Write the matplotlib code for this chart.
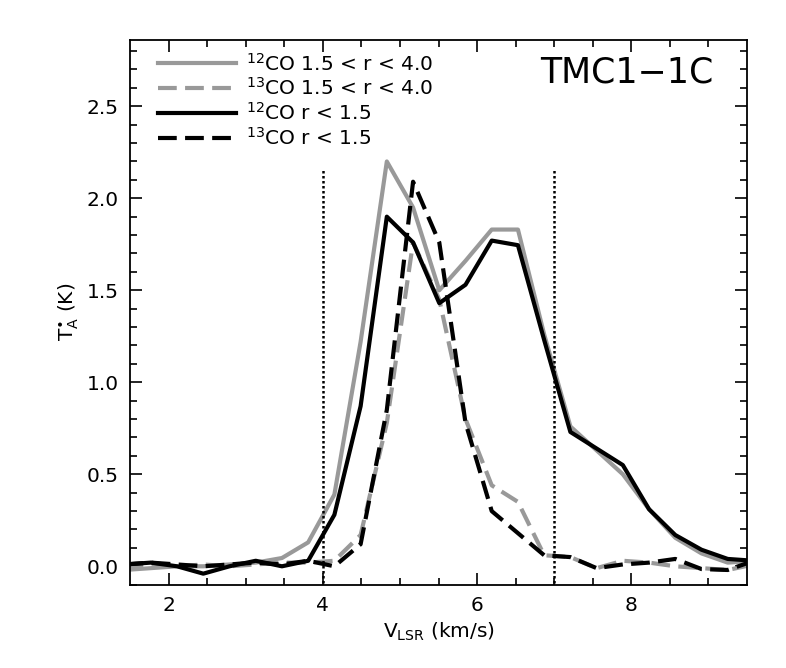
import matplotlib
matplotlib.use("Agg")
import matplotlib.pyplot as plt

plt.rcParams["font.family"] = ["DejaVu Sans"]
plt.rcParams["mathtext.default"] = "regular"

# channel velocities (km/s)
vel = [1.43, 1.77, 2.11, 2.45, 2.79, 3.13, 3.47, 3.81, 4.15, 4.49, 4.83, 5.17, 5.51,
       5.85, 6.19, 6.53, 6.87, 7.21, 7.55, 7.89, 8.23, 8.57, 8.91, 9.25, 9.59]

co12_outer = [-0.02, -0.01, 0.0, 0.0, 0.01, 0.02, 0.045, 0.13, 0.39, 1.22, 2.20, 1.95, 1.50,
              1.66, 1.83, 1.83, 1.26, 0.76, 0.63, 0.50, 0.31, 0.155, 0.07, 0.02, 0.03]
co13_outer = [-0.01, 0.0, 0.0, 0.01, 0.0, 0.01, 0.02, 0.02, 0.03, 0.17, 0.78, 1.76, 1.45,
              0.80, 0.44, 0.35, 0.06, 0.05, -0.01, 0.03, 0.02, 0.0, -0.01, -0.02, 0.01]
co12_inner = [0.01, 0.02, 0.0, -0.04, 0.0, 0.03, 0.0, 0.03, 0.28, 0.87, 1.90, 1.76, 1.43,
              1.53, 1.77, 1.745, 1.23, 0.73, 0.64, 0.55, 0.31, 0.17, 0.09, 0.04, 0.03]
co13_inner = [0.01, 0.02, 0.01, 0.0, 0.01, 0.02, 0.01, 0.03, 0.0, 0.12, 0.85, 2.09, 1.76,
              0.78, 0.30, 0.18, 0.06, 0.05, -0.01, 0.01, 0.02, 0.04, -0.015, -0.02, 0.03]

labels = ["$^{12}$CO 1.5 < r < 4.0", "$^{13}$CO 1.5 < r < 4.0",
          "$^{12}$CO r < 1.5", "$^{13}$CO r < 1.5"]
vlines = [4.0, 7.0]

fig = plt.figure(figsize=(7.86, 6.68), dpi=100)
ax = fig.add_axes([0.1654, 0.1247, 0.7850, 0.8154])

grey = "#999999"
lw = 3.0
ax.plot(vel, co12_outer, color=grey, lw=lw, label=labels[0])
ax.plot(vel, co13_outer, color=grey, lw=lw, dashes=(4.5, 2.0), label=labels[1])
ax.plot(vel, co12_inner, color="black", lw=lw, label=labels[2])
ax.plot(vel, co13_inner, color="black", lw=lw, dashes=(4.5, 2.0), label=labels[3])

for v in vlines:
    ax.plot([v, v], [-0.2, 2.16], color="black", lw=1.8, linestyle=(0, (1, 1)))

ax.set_xlim(1.5, 9.5)
ax.set_ylim(-0.1, 2.86)
ax.set_xticks([2, 4, 6, 8])
ax.set_xticks([2.5, 3, 3.5, 4.5, 5, 5.5, 6.5, 7, 7.5, 8.5, 9], minor=True)
ax.set_yticks([0.0, 0.5, 1.0, 1.5, 2.0, 2.5])
ax.set_yticks([v / 10 for v in range(-1, 29) if v % 5 != 0], minor=True)
ax.set_yticklabels(["0.0", "0.5", "1.0", "1.5", "2.0", "2.5"])
ax.tick_params(which="both", direction="in", top=True, right=True, labelsize=14.5, width=1.2)
ax.tick_params(which="major", length=8.6, pad=8)
ax.tick_params(which="minor", length=5)
for s in ax.spines.values():
    s.set_linewidth(1.3)

ax.set_xlabel("V$_{LSR}$ (km/s)", fontsize=14.5, labelpad=4)
ax.set_ylabel("T$_A^{\\bullet}$ (K)", fontsize=14.5, labelpad=4)

ax.text(0.945, 0.94, "TMC1\u22121C", transform=ax.transAxes, ha="right", va="center",
        fontsize=25)

ax.legend(loc="upper left", bbox_to_anchor=(0.045, 0.977), frameon=False, fontsize=14.5,
          handlelength=3.9, handletextpad=0.5, labelspacing=0.14, borderpad=0,
          borderaxespad=0)

fig.savefig("out.png", dpi=100)
